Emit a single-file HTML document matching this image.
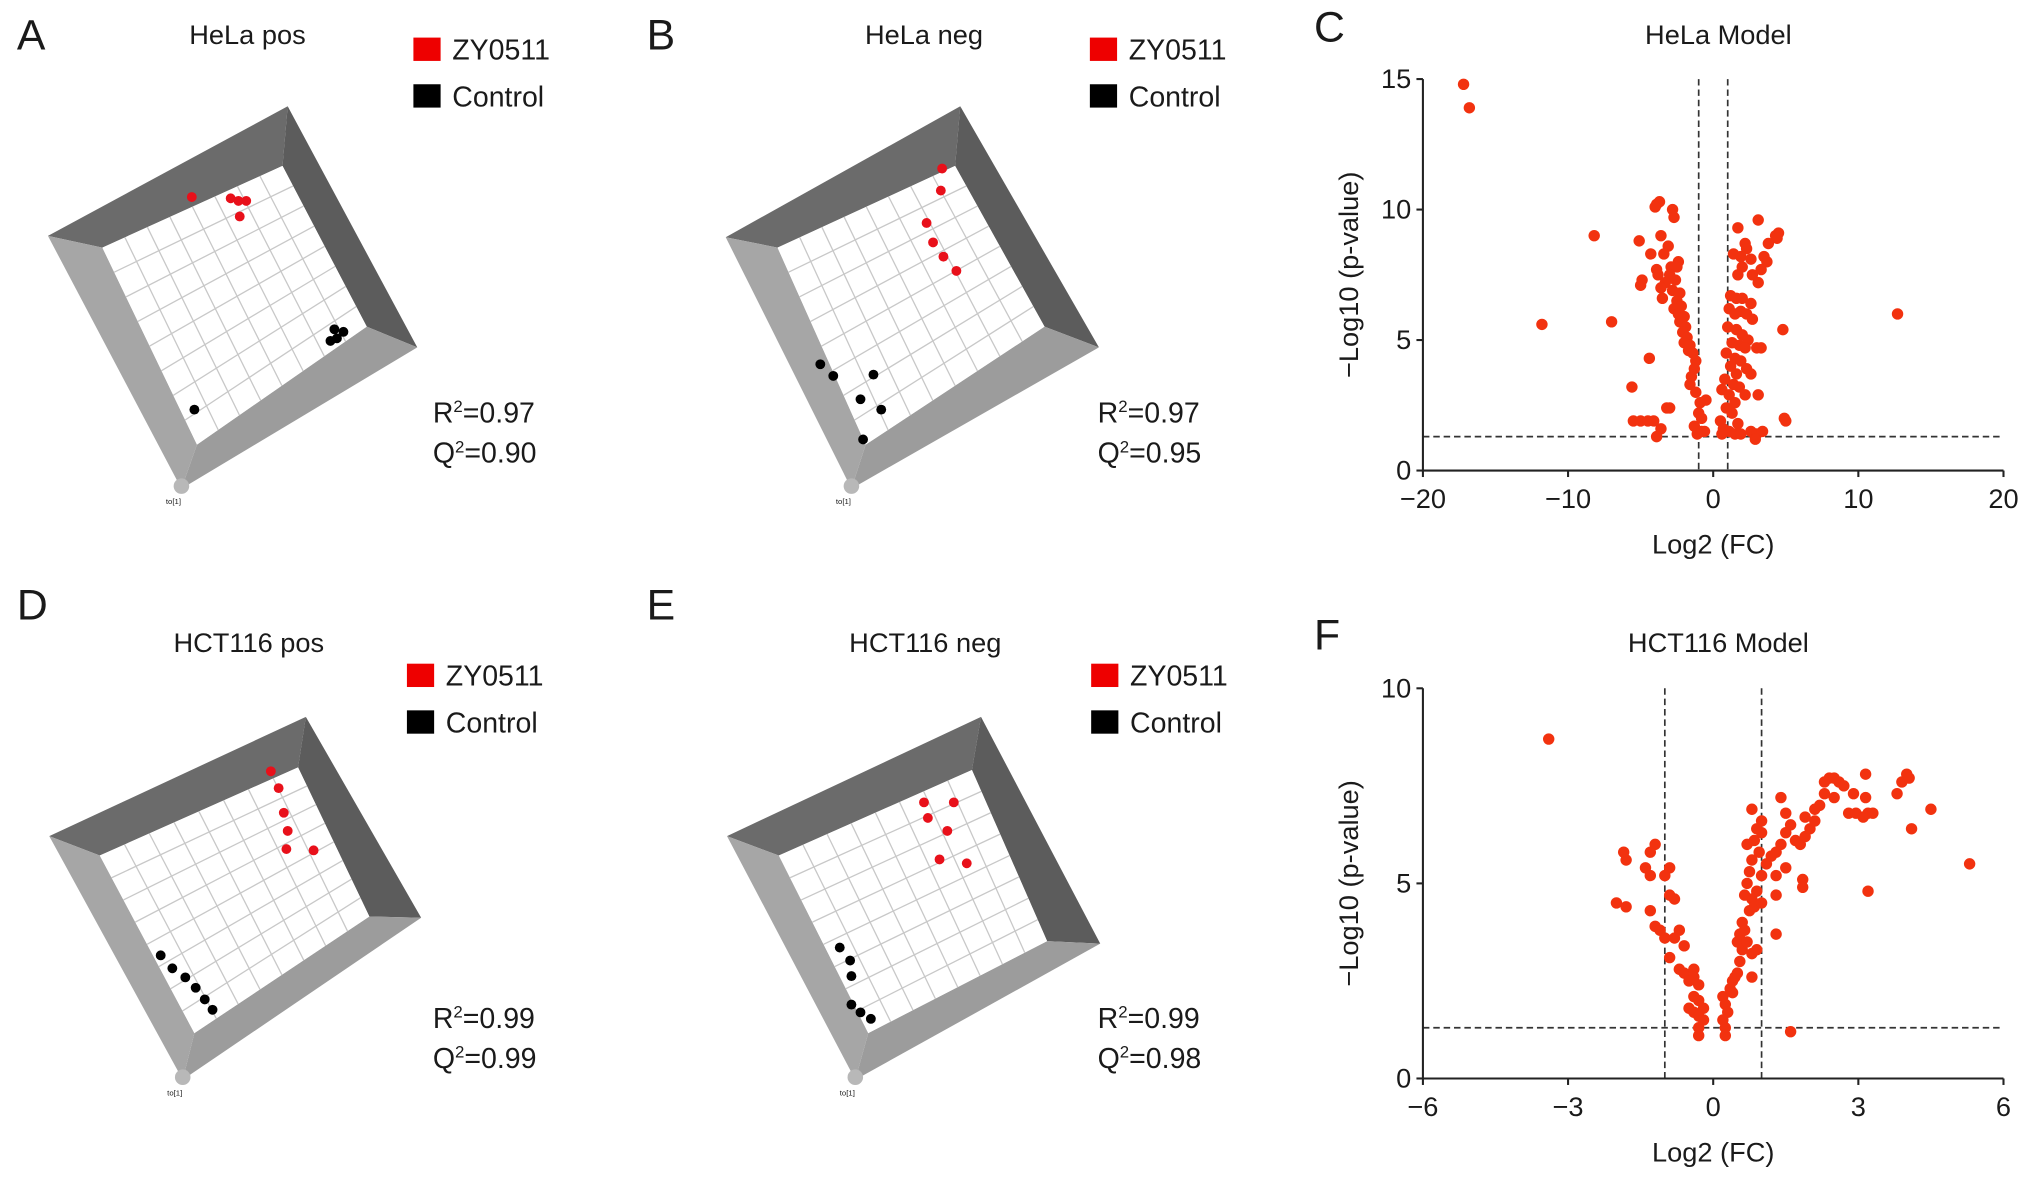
<!DOCTYPE html>
<html><head><meta charset="utf-8">
<style>
html,body{margin:0;padding:0;background:#fff;}
svg{display:block;font-family:"Liberation Sans",Arial,sans-serif;}
</style></head>
<body>
<svg id="fig" width="2032" height="1177" viewBox="0 0 1568 908" preserveAspectRatio="none" xmlns="http://www.w3.org/2000/svg">
<rect width="1568" height="908" fill="#fff"/>
</svg>
<script>
// ---------- Volcano data: HeLa Model (C) ----------
const helaFC = [-17.2,-16.8,-11.8,-8.2,-7.0,12.7,
-3.9,-3.7,-4.0,-2.8,-2.7,-3.6,-5.1,-3.1,-4.3,-3.4,-2.4,-2.5,-2.9,-3.9,-3.8,-3.0,-2.6,-4.9,-5.0,-3.3,-3.6,-2.8,-2.3,-3.5,-2.5,-2.2,-2.7,-2.4,-2.0,-2.3,-1.9,-2.1,-1.8,-2.0,-1.6,-1.7,-1.4,-1.2,-4.4,-1.3,-1.5,-1.6,-5.6,-1.2,-0.5,-0.9,-3.0,-3.2,-1.0,-0.8,-5.5,-5.0,-4.5,-4.1,-3.6,-1.3,-0.8,-0.6,-3.9,-1.1,
1.7,3.1,4.5,4.3,4.4,3.8,2.2,2.3,1.4,1.9,2.6,3.5,3.7,3.3,2.0,1.7,2.7,3.1,1.2,1.6,2.0,2.6,1.1,1.5,1.9,2.3,2.7,1.0,1.6,4.8,2.0,2.4,1.3,1.8,2.2,3.3,3.0,0.9,1.5,1.9,1.2,2.3,1.6,0.8,2.6,1.4,1.8,0.6,1.1,2.2,3.1,1.5,0.9,1.3,4.9,5.0,0.5,1.7,0.7,1.1,1.5,2.6,3.0,3.4,2.9,0.6,1.9];
const helaP = [14.8,13.9,5.6,9.0,5.7,6.0,
10.2,10.3,10.1,10.0,9.7,9.0,8.8,8.6,8.3,8.3,8.0,7.8,7.8,7.7,7.5,7.5,7.3,7.3,7.1,7.2,7.0,6.9,6.8,6.6,6.5,6.3,6.2,6.0,5.9,5.7,5.5,5.3,5.1,4.9,4.8,4.6,4.5,4.2,4.3,3.9,3.6,3.3,3.2,3.0,2.7,2.6,2.4,2.4,2.2,2.0,1.9,1.9,1.9,1.9,1.6,1.7,1.5,1.5,1.3,1.4,
9.3,9.6,9.1,9.0,8.9,8.7,8.7,8.5,8.3,8.2,8.1,8.2,8.0,7.7,7.8,7.5,7.5,7.2,6.7,6.6,6.6,6.4,6.2,6.0,6.1,6.0,5.8,5.5,5.4,5.4,5.2,5.0,4.9,4.8,4.7,4.7,4.7,4.5,4.3,4.2,4.0,3.9,3.7,3.5,3.7,3.3,3.2,3.1,2.9,2.9,2.9,2.6,2.4,2.2,2.0,1.9,1.9,1.8,1.6,1.5,1.4,1.5,1.4,1.5,1.2,1.4,1.4];
const helaXTicks = [-20,-10,0,10,20];
const helaYTicks = [0,5,10,15];

// ---------- Volcano data: HCT116 Model (F) ----------
const hctFC = [-3.4,5.3,3.2,1.6,
-1.2,-1.85,-1.8,-1.3,-1.4,-1.3,-0.9,-1.0,-2.0,-1.8,-1.3,-0.9,-0.8,-1.2,-1.1,-1.0,-0.7,-0.8,-0.6,-0.9,-0.7,-0.6,-0.4,-0.4,-0.5,-0.3,-0.4,-0.3,-0.5,-0.4,-0.3,-0.2,-0.3,-0.3,-0.2,
0.2,0.25,0.3,0.2,0.25,0.25,0.35,0.4,0.45,0.5,0.4,0.55,0.5,0.55,0.6,0.65,0.6,0.7,0.8,0.9,0.75,0.8,0.85,0.9,1.0,0.65,0.7,0.75,0.8,0.95,1.0,1.1,0.85,0.9,1.0,0.8,0.7,1.2,1.3,1.4,1.5,1.6,1.3,1.3,1.4,1.3,0.8,1.5,1.7,1.8,1.9,2.0,2.1,1.85,1.85,2.2,2.3,2.4,2.5,2.6,2.3,2.5,2.7,2.9,2.8,2.95,3.1,3.2,3.3,3.15,3.15,3.8,3.9,4.0,4.05,4.1,4.5,1.9,2.1,1.5,1.0];
const hctP = [8.7,5.5,4.8,1.2,
6.0,5.8,5.6,5.8,5.4,5.2,5.4,5.2,4.5,4.4,4.3,4.7,4.6,3.9,3.8,3.6,3.8,3.6,3.4,3.1,2.8,2.7,2.8,2.6,2.5,2.4,2.1,2.0,1.8,1.7,1.6,1.5,1.3,1.1,1.8,
2.1,1.9,1.7,1.5,1.3,1.1,2.3,2.5,2.6,2.7,2.2,3.0,3.5,3.7,3.3,3.8,4.0,3.5,3.2,3.3,4.3,4.6,4.4,4.8,4.5,4.7,5.0,5.3,5.6,5.8,5.2,5.5,6.1,6.4,6.6,6.9,6.0,5.7,5.8,6.0,6.3,6.5,5.2,4.7,7.2,3.7,2.6,6.8,6.1,6.0,6.2,6.4,6.6,5.1,4.9,7.0,7.6,7.7,7.7,7.6,7.3,7.2,7.5,7.3,6.8,6.8,6.7,6.8,6.8,7.2,7.8,7.3,7.6,7.8,7.7,6.4,6.9,6.7,6.9,5.4,6.3];
const hctXTicks = [-6,-3,0,3,6];
const hctYTicks = [0,5,10];

// ---------- PCA score points (plot coordinates) ----------
const aRedX=[148,178,184,190,185], aRedY=[152,153,155,155,167];
const aBlkX=[258,265,260,255,150], aBlkY=[254,256,261,263,316];
const bRedX=[727,726,715,720,728,738], bRedY=[130,147,172,187,198,209];
const bBlkX=[633,643,674,664,680,666], bBlkY=[281,290,289,308,316,339];
const dRedX=[209,215,219,222,221,242], dRedY=[595,608,627,641,655,656];
const dBlkX=[124,133,143,151,158,164], dBlkY=[737,747,754,762,771,779];
const eRedX=[713,716,736,731,725,746], eRedY=[619,631,619,641,663,666];
const eBlkX=[648,656,657,657,664,672], eBlkY=[731,741,753,775,781,786];

const NS='http://www.w3.org/2000/svg';
const svg=document.getElementById('fig');
function mk(tag,attrs,parent,txt){const e=document.createElementNS(NS,tag);for(const k in attrs)e.setAttribute(k,attrs[k]);if(txt!==undefined)e.textContent=txt;(parent||svg).appendChild(e);return e;}

function text(x,y,s,size,anchor,name,parent){
  const t=mk('text',{x:x,y:y,'font-size':size,'text-anchor':anchor||'start',fill:'#1a1a1a'},parent,s);
  
  
  return t;
}

// ---------- PCA panels ----------
function pcaPanel(id,letter,lx,ly,title,tx,ty,legX,legY,oc,ic,rx,ry,rLabel,qLabel,redX,redY,blkX,blkY){
  const g=mk('g',{});
  
  
  text(lx,ly,letter,33,'start','panel-letter-'+id,g);
  text(tx,ty,title,21,'middle','panel-title-'+id,g);
  const l1=mk('rect',{x:legX,y:legY,width:21,height:18,fill:'#ee0000'},g);
  
  
  text(legX+30,legY+17,'ZY0511',22,'start','legend-label-zy0511',g);
  const l2=mk('rect',{x:legX,y:legY+36,width:21,height:18,fill:'#000'},g);
  
  
  text(legX+30,legY+53,'Control',22,'start','legend-label-control',g);
  const [T,R,B,L]=oc,[t,r,b,l]=ic;
  const pts=a=>a.map(p=>p.join(',')).join(' ');
  const faces=[[[L,T,t,l],'#6b6b6b','frame-top-face'],[[T,R,r,t],'#5c5c5c','frame-right-face'],[[R,B,b,r],'#9c9c9c','frame-bottom-face'],[[B,L,l,b],'#a6a6a6','frame-left-face']];
  faces.forEach(f=>{const p=mk('polygon',{points:pts(f[0]),fill:f[1]},g);});
  const inner=mk('polygon',{points:pts([t,r,b,l]),fill:'#fff'},g);
  
  
  const lerp=(p,q,s)=>[p[0]+(q[0]-p[0])*s,p[1]+(q[1]-p[1])*s];
  const n=8;
  for(let i=1;i<n;i++){
    const s=i/n;
    let a=lerp(l,t,s),c=lerp(b,r,s);
    const g1=mk('line',{x1:a[0],y1:a[1],x2:c[0],y2:c[1],stroke:'#c8c8c8','stroke-width':1},g);
    
    a=lerp(l,b,s);c=lerp(t,r,s);
    const g2=mk('line',{x1:a[0],y1:a[1],x2:c[0],y2:c[1],stroke:'#c8c8c8','stroke-width':1},g);
    
  }
  const sph=mk('circle',{cx:B[0],cy:B[1]-2,r:6,fill:'#b8b8b8'},g);
  
  text(B[0]-12,B[1]+12,'to[1]',6,'start','axis-label-t1',g);
  for(let i=0;i<redX.length;i++){const c=mk('circle',{cx:redX[i],cy:redY[i],r:3.8,fill:'#e8101a'},g);}
  for(let i=0;i<blkX.length;i++){const c=mk('circle',{cx:blkX[i],cy:blkY[i],r:3.8,fill:'#000'},g);}
  const r2=mk('text',{x:rx,y:ry,'font-size':22,fill:'#1a1a1a'},g);
  
  r2.innerHTML='R<tspan dy="-8" font-size="13">2</tspan><tspan dy="8">='+rLabel+'</tspan>';
  const q2=mk('text',{x:rx,y:ry+31,'font-size':22,fill:'#1a1a1a'},g);
  
  q2.innerHTML='Q<tspan dy="-8" font-size="13">2</tspan><tspan dy="8">='+qLabel+'</tspan>';
}
pcaPanel('a','A',13,38,'HeLa pos',191,34,319,29,[[222,82],[322,268],[140,377],[37,182]],[[218,128],[283,252],[152,343],[79,191]],334,326,'0.97','0.90',aRedX,aRedY,aBlkX,aBlkY);
pcaPanel('b','B',499,38,'HeLa neg',713,34,841,29,[[741,82],[848,268],[657,377],[560,183]],[[737,128],[806,252],[668,343],[600,191]],847,326,'0.97','0.95',bRedX,bRedY,bBlkX,bBlkY);
pcaPanel('d','D',13,478,'HCT116 pos',192,503,314,512,[[236,553],[325,708],[141,833],[38,645]],[[230,592],[285,707],[150,797],[77,660]],334,793,'0.99','0.99',dRedX,dRedY,dBlkX,dBlkY);
pcaPanel('e','E',499,478,'HCT116 neg',714,503,842,512,[[757,553],[849,728],[660,833],[561,645]],[[750,594],[808,726],[670,797],[601,660]],847,793,'0.99','0.98',eRedX,eRedY,eBlkX,eBlkY);

// ---------- Volcano panels ----------
function volcano(id,letter,title,ty,xT,yT,fc,p,ox,oy,ytop){
  const g=mk('g',{});
  
  
  const x0=1098,x1=1546;
  const xmin=xT[0],xmax=xT[xT.length-1],ymax=yT[yT.length-1];
  const X=v=>x0+(v-xmin)/(xmax-xmin)*(x1-x0);
  const Y=v=>oy-(v/ymax)*(oy-ytop);
  text(1014,ty-2,letter,33,'start','panel-letter-'+id,g);
  text(1326,ty,title,21,'middle','panel-title-'+id,g);
  [-1,1].forEach(v=>{const d=mk('line',{x1:X(v),y1:Y(ymax),x2:X(v),y2:oy,stroke:'#333','stroke-width':1.3,'stroke-dasharray':'5,3'},g);});
  const h=mk('line',{x1:x0,y1:Y(1.3),x2:x1,y2:Y(1.3),stroke:'#333','stroke-width':1.3,'stroke-dasharray':'5,3'},g);
  
  for(let i=0;i<fc.length;i++){const c=mk('circle',{cx:X(fc[i]),cy:Y(p[i]),r:4.4,fill:'#f2320f'},g);}
  const ya=mk('line',{x1:x0,y1:Y(ymax),x2:x0,y2:oy,stroke:'#222','stroke-width':1.6},g);
  
  const xa=mk('line',{x1:x0,y1:oy,x2:x1,y2:oy,stroke:'#222','stroke-width':1.6},g);
  
  yT.forEach(v=>{const tk=mk('line',{x1:x0-5,y1:Y(v),x2:x0,y2:Y(v),stroke:'#222','stroke-width':1.6},g);
    text(x0-9,Y(v)+7,String(v),21,'end','y-tick-label',g);});
  xT.forEach(v=>{const tk=mk('line',{x1:X(v),y1:oy,x2:X(v),y2:oy+5,stroke:'#222','stroke-width':1.6},g);
    text(X(v),oy+29,String(v).replace('-','\u2212'),21,'middle','x-tick-label',g);});
  text(1322,oy+64,'Log2 (FC)',21,'middle','x-axis-title',g);
  const yt=text(0,0,'\u2212Log10 (p-value)',21,'middle','y-axis-title',g);
  yt.setAttribute('transform','translate(1048,'+((oy+Y(ymax))/2)+') rotate(-90)');
}
volcano('c','C','HeLa Model',34,helaXTicks,helaYTicks,helaFC,helaP,0,363,61);
volcano('f','F','HCT116 Model',503,hctXTicks,hctYTicks,hctFC,hctP,0,832,531);
</script>
</body></html>
